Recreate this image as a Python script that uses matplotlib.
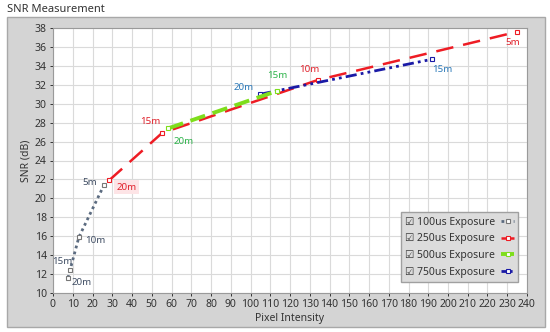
import matplotlib
matplotlib.use("Agg")
import matplotlib.pyplot as plt
from matplotlib.patches import Rectangle

plt.rcParams['font.family'] = ['Noto Sans', 'DejaVu Sans']

# readings: pixel intensity vs SNR (dB) at several distances
x_100 = [7.6, 8.6, 13.1, 25.8]
y_100 = [11.6, 12.4, 15.9, 21.4]
d_100 = ["20m", "15m", "10m", "5m"]

x_250 = [28.4, 55.2, 134.0, 235.0]
y_250 = [21.9, 26.9, 32.5, 37.6]
d_250 = ["20m", "15m", "10m", "5m"]

x_500 = [58.4, 113.5]
y_500 = [27.4, 31.35]
d_500 = ["20m", "15m"]

x_750 = [104.8, 192.0]
y_750 = [31.0, 34.7]
d_750 = ["20m", "15m"]

series_names = ["100us Exposure", "250us Exposure", "500us Exposure", "750us Exposure"]

# label offsets in pixels (dx, dy, ha)
off_100 = [(4, -5, "left"), (2, 9, "right"), (6, -3, "left"), (-7, 3, "right")]
off_250 = [(7, -7, "left"), (-2, 12, "right"), (-8, 11, "center"), (-4, -11, "center")]
off_500 = [(15, -13, "center"), (0, 15, "center")]
off_750 = [(-16, 7, "center"), (10, -10, "center")]

fig = plt.figure(figsize=(5.5, 3.32), dpi=100)
W, H = 550, 332

# grey panel
fig.patches.append(Rectangle((7 / W, 1 - 327 / H), 538 / W, 310 / H,
                             transform=fig.transFigure, facecolor="#d4d4d4",
                             edgecolor="#a8a8a8", lw=1, zorder=-1))
fig.text(7 / W, 1 - 10 / H, "SNR Measurement", fontsize=8, color="#333333",
         va="center", ha="left")

ax = fig.add_axes([53 / W, 1 - 293 / H, 474 / W, 265 / H])
ax.set_zorder(2)
ax.set_facecolor("white")
ax.set_xlim(0, 240)
ax.set_ylim(10, 38)
ax.set_xticks(range(0, 241, 10))
ax.set_yticks(range(10, 39, 2))
ax.grid(True, color="#dadada", lw=0.8)
ax.set_axisbelow(True)
for s in ax.spines.values():
    s.set_color("#9a9a9a")
    s.set_linewidth(0.8)
ax.tick_params(labelsize=7.5, colors="#333333", length=2.5, width=0.7, pad=2)
ax.set_xlabel("Pixel Intensity", fontsize=7.5, color="#333333", labelpad=2)
ax.set_ylabel("SNR (dB)", fontsize=7.5, color="#333333", labelpad=2)

c100, c250, c500, c750 = "#5b6b80", "#ee1c24", "#7ede1c", "#1a1aa6"
t100, t250, t500, t750 = "#3e4c62", "#e0202a", "#2db34a", "#2a78b8"

l1, = ax.plot(x_100, y_100, color=c100, lw=2, linestyle=(0, (1, 1.2)),
              marker="s", ms=3.5, mfc="white", mec="#777777", mew=0.8, zorder=3)
l2, = ax.plot(x_250, y_250, color=c250, lw=1.8, linestyle=(0, (7, 4)),
              marker="s", ms=3.5, mfc="white", mec=c250, mew=0.8, zorder=3)
l4, = ax.plot(x_750, y_750, color=c750, lw=2, linestyle=(0, (4, 1.5, 1, 1.5, 1, 1.5)),
              marker="s", ms=3.5, mfc="white", mec=c750, mew=0.8, zorder=4)
l3, = ax.plot(x_500, y_500, color=c500, lw=2.8, linestyle=(0, (4, 2)),
              marker="s", ms=3.5, mfc="white", mec=c500, mew=0.8, zorder=5)

groups = [(x_100, y_100, d_100, off_100, t100, None),
          (x_250, y_250, d_250, off_250, t250, "#fde4e6"),
          (x_500, y_500, d_500, off_500, t500, None),
          (x_750, y_750, d_750, off_750, t750, None)]
for xs, ys, ds, offs, col, bg in groups:
    for x, y, d, (dx, dy, ha) in zip(xs, ys, ds, offs):
        kw = {}
        if bg is not None and d == "20m":
            kw["bbox"] = dict(boxstyle="square,pad=0.25", fc=bg, ec="none")
        ax.annotate(d, (x, y), xytext=(dx, dy), textcoords="offset pixels",
                    fontsize=7, color=col, ha=ha, va="center", **kw)

leg = ax.legend([l1, l2, l3, l4], ["\u2611 " + n for n in series_names],
                loc="lower right", bbox_to_anchor=(0.992, 0.022),
                markerfirst=False, fontsize=7.5, handlelength=1.2,
                handletextpad=0.6, facecolor="#dcdcdc", edgecolor="#a0a0a0",
                framealpha=1, fancybox=False, borderpad=0.4, labelspacing=0.55)
leg.set_zorder(10)
for t in leg.get_texts():
    t.set_color("#333333")

fig.savefig("out.png", dpi=100)
